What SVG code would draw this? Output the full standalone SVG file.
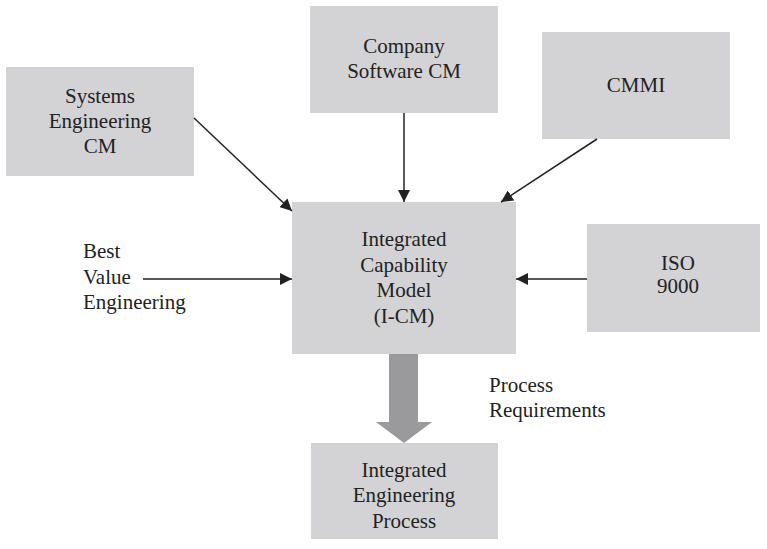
<svg xmlns="http://www.w3.org/2000/svg" width="767" height="549" viewBox="0 0 767 549">
  <style>
    .box { fill: #d3d3d5; }
    .lbl { font-family: "Liberation Serif", "Times New Roman", serif; font-size: 21px; fill: #222; }
    .mid { text-anchor: middle; }
    .conn { stroke: #222; stroke-width: 1.5; fill: none; marker-end: url(#head); }
  </style>
  <defs>
    <marker id="head" markerUnits="userSpaceOnUse" markerWidth="13" markerHeight="12" refX="12" refY="6" orient="auto">
      <path d="M0,0 L12,6 L0,12 Z" fill="#222"/>
    </marker>
  </defs>
  <rect width="767" height="549" fill="#ffffff"/>

  <g id="systems-engineering-cm">
    <rect class="box" x="6" y="67" width="188" height="109"/>
    <text class="lbl mid" x="100" y="103">Systems</text>
    <text class="lbl mid" x="100" y="128">Engineering</text>
    <text class="lbl mid" x="100" y="153">CM</text>
  </g>

  <g id="company-software-cm">
    <rect class="box" x="310" y="6" width="188" height="107"/>
    <text class="lbl mid" x="404" y="53">Company</text>
    <text class="lbl mid" x="404" y="78">Software CM</text>
  </g>

  <g id="cmmi">
    <rect class="box" x="542" y="32" width="188" height="107"/>
    <text class="lbl mid" x="636" y="92">CMMI</text>
  </g>

  <g id="integrated-capability-model">
    <rect class="box" x="292" y="202" width="224" height="152"/>
    <text class="lbl mid" x="404" y="246">Integrated</text>
    <text class="lbl mid" x="404" y="272">Capability</text>
    <text class="lbl mid" x="404" y="297">Model</text>
    <text class="lbl mid" x="404" y="323">(I-CM)</text>
  </g>

  <g id="iso-9000">
    <rect class="box" x="587" y="224" width="173" height="108"/>
    <text class="lbl mid" x="678" y="270">ISO</text>
    <text class="lbl mid" x="678" y="293">9000</text>
  </g>

  <g id="best-value-engineering">
    <text class="lbl" x="83" y="258">Best</text>
    <text class="lbl" x="83" y="284">Value</text>
    <text class="lbl" x="83" y="309">Engineering</text>
  </g>

  <g id="integrated-engineering-process">
    <rect class="box" x="311" y="443" width="187" height="96"/>
    <text class="lbl mid" x="404" y="477">Integrated</text>
    <text class="lbl mid" x="404" y="502">Engineering</text>
    <text class="lbl mid" x="404" y="528">Process</text>
  </g>

  <g id="connectors">
    <line class="conn" x1="194" y1="118" x2="292" y2="211"/>
    <line class="conn" x1="404" y1="113" x2="404" y2="202"/>
    <line class="conn" x1="597" y1="139" x2="501" y2="202"/>
    <line class="conn" x1="143" y1="279" x2="292" y2="279"/>
    <line class="conn" x1="587" y1="279" x2="516" y2="279"/>
    <polygon points="389,354 418,354 418,422 432,422 404,443 376,422 389,422" fill="#9a9a9c"/>
    <text class="lbl" x="489" y="392">Process</text>
    <text class="lbl" x="489" y="417">Requirements</text>
  </g>
</svg>
